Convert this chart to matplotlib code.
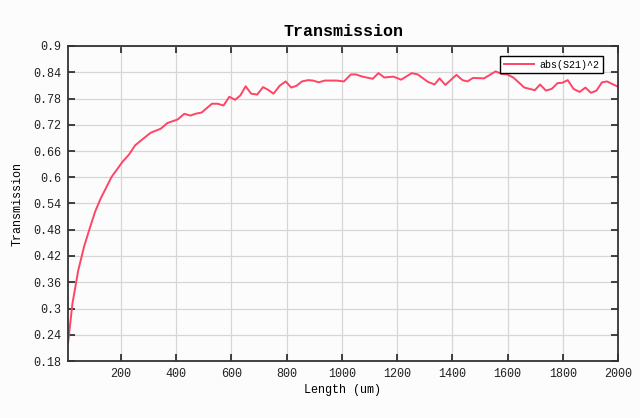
import numpy as np
import matplotlib.pyplot as plt

# Length (um) and transmission |S21|^2
length = [9, 25, 46, 67, 85, 107, 127, 167, 206, 230, 252, 285, 309, 345, 369, 406,
          430, 452, 470, 493, 530, 551, 572, 593, 614, 633, 652, 672, 694, 715, 733,
          753, 775, 797, 817, 836, 856, 878, 896, 917, 938, 960, 981, 1008, 1033, 1051,
          1075, 1112, 1133, 1154, 1187, 1215, 1253, 1275, 1312, 1336, 1354, 1375, 1415,
          1437, 1455, 1475, 1515, 1536, 1557, 1579, 1599, 1621, 1661, 1699, 1718, 1739,
          1760, 1781, 1799, 1818, 1839, 1861, 1882, 1902, 1922, 1942, 1960, 2000]
trans = [0.22, 0.311, 0.387, 0.441, 0.478, 0.521, 0.551, 0.601, 0.635, 0.652, 0.673,
         0.690, 0.702, 0.711, 0.724, 0.732, 0.745, 0.741, 0.745, 0.748, 0.768, 0.768,
         0.764, 0.784, 0.777, 0.787, 0.808, 0.791, 0.789, 0.806, 0.800, 0.791, 0.809,
         0.819, 0.805, 0.809, 0.819, 0.822, 0.821, 0.817, 0.821, 0.821, 0.821, 0.819,
         0.835, 0.835, 0.830, 0.825, 0.838, 0.828, 0.830, 0.823, 0.838, 0.835, 0.818,
         0.812, 0.826, 0.811, 0.834, 0.822, 0.819, 0.827, 0.826, 0.834, 0.842, 0.836,
         0.835, 0.828, 0.805, 0.799, 0.812, 0.798, 0.802, 0.815, 0.816, 0.822, 0.802,
         0.795, 0.805, 0.793, 0.798, 0.817, 0.819, 0.807]

xticks = [200, 400, 600, 800, 1000, 1200, 1400, 1600, 1800, 2000]
yticks = [0.18, 0.24, 0.3, 0.36, 0.42, 0.48, 0.54, 0.6, 0.66, 0.72, 0.78, 0.84, 0.9]
ytick_labels = ['0.18', '0.24', '0.3', '0.36', '0.42', '0.48', '0.54', '0.6',
                '0.66', '0.72', '0.78', '0.84', '0.9']

plt.rcParams['font.family'] = ['Liberation Mono', 'DejaVu Sans Mono']

fig = plt.figure(figsize=(6.4, 4.18), dpi=100, facecolor='#fcfcfc')
ax = fig.add_axes([68/640, 1-361/418, 550/640, 315/418])
ax.set_facecolor('#fcfcfc')

ax.plot(length, trans, color='#ff4466', lw=1.4, label='abs(S21)^2')

ax.set_xlim(length[0], 2000)
ax.set_ylim(0.18, 0.9)
ax.set_xticks(xticks)
ax.set_yticks(yticks)
ax.set_yticklabels(ytick_labels)
ax.grid(True, color='#d6d6d6', lw=0.9)
ax.tick_params(direction='in', length=5, width=1.2, top=True, right=True,
               colors='#222222', labelsize=8.5, pad=5)
for s in ax.spines.values():
    s.set_linewidth(1.3)
    s.set_color('#333333')

ax.set_title('Transmission', fontsize=12, fontweight='bold', pad=7)
ax.set_xlabel('Length (um)', fontsize=8.5, labelpad=3)
ax.set_ylabel('Transmission', fontsize=8.5, labelpad=7)

leg = ax.legend(loc='upper right', bbox_to_anchor=(0.973, 0.968), fontsize=7.2,
                frameon=True, fancybox=False, handlelength=3.0, handletextpad=0.6,
                borderpad=0.35, borderaxespad=0)
leg.get_frame().set_edgecolor('black')
leg.get_frame().set_linewidth(1.0)
leg.get_frame().set_facecolor('white')
leg.get_frame().set_alpha(1)

plt.savefig('out.png', dpi=100, facecolor=fig.get_facecolor())
